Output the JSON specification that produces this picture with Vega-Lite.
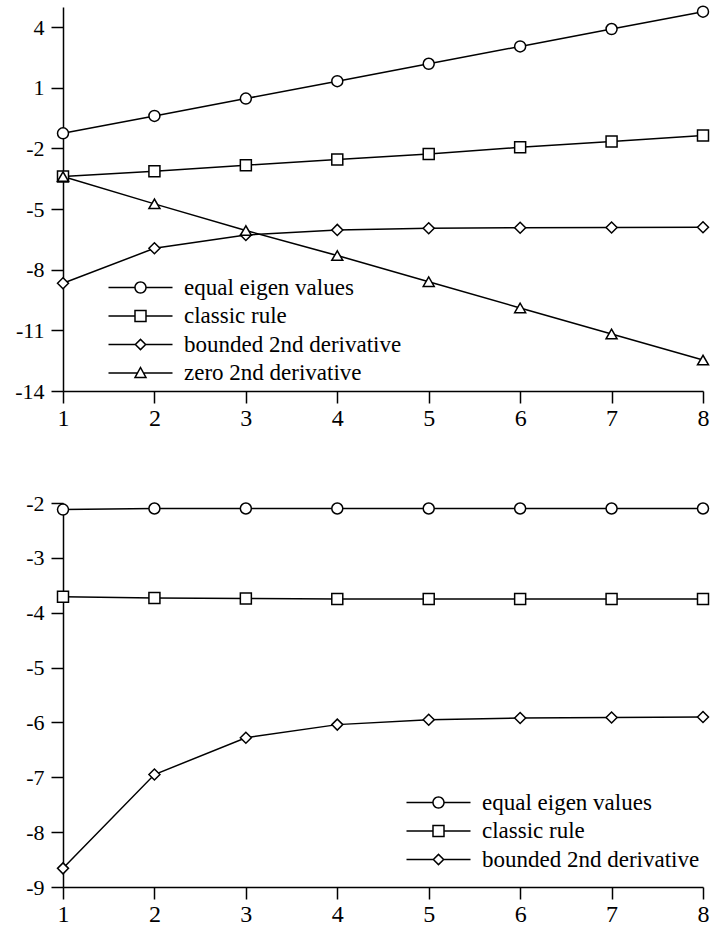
{
  "$schema": "https://vega.github.io/schema/vega-lite/v6.json",
  "background": "white",
  "padding": {"left": 14, "top": 3, "right": 3, "bottom": 0},
  "bounds": "flush",
  "spacing": 112,
  "config": {
    "view": {"stroke": null},
    "axis": {"labelFont": "Liberation Serif", "labelFontSize": 22, "labelColor": "black", "domainColor": "black", "tickColor": "black", "domainWidth": 1.5, "tickWidth": 1.5, "tickSize": 12, "grid": false, "title": null, "labelPadding": 7, "labelFlush": false, "labelOverlap": false, "labelExpr": "'' + datum.value"},
    "axisX": {"labelPadding": 3, "labelFontSize": 24}
  },
  "datasets": {
    "top": [
      {"x": 1, "y": -1.25, "series": "equal eigen values"},
      {"x": 2, "y": -0.39, "series": "equal eigen values"},
      {"x": 3, "y": 0.47, "series": "equal eigen values"},
      {"x": 4, "y": 1.33, "series": "equal eigen values"},
      {"x": 5, "y": 2.19, "series": "equal eigen values"},
      {"x": 6, "y": 3.05, "series": "equal eigen values"},
      {"x": 7, "y": 3.91, "series": "equal eigen values"},
      {"x": 8, "y": 4.77, "series": "equal eigen values"},
      {"x": 1, "y": -3.39, "series": "classic rule"},
      {"x": 2, "y": -3.13, "series": "classic rule"},
      {"x": 3, "y": -2.83, "series": "classic rule"},
      {"x": 4, "y": -2.55, "series": "classic rule"},
      {"x": 5, "y": -2.27, "series": "classic rule"},
      {"x": 6, "y": -1.94, "series": "classic rule"},
      {"x": 7, "y": -1.66, "series": "classic rule"},
      {"x": 8, "y": -1.36, "series": "classic rule"},
      {"x": 1, "y": -8.67, "series": "bounded 2nd derivative"},
      {"x": 2, "y": -6.94, "series": "bounded 2nd derivative"},
      {"x": 3, "y": -6.28, "series": "bounded 2nd derivative"},
      {"x": 4, "y": -6.03, "series": "bounded 2nd derivative"},
      {"x": 5, "y": -5.95, "series": "bounded 2nd derivative"},
      {"x": 6, "y": -5.92, "series": "bounded 2nd derivative"},
      {"x": 7, "y": -5.91, "series": "bounded 2nd derivative"},
      {"x": 8, "y": -5.9, "series": "bounded 2nd derivative"},
      {"x": 1, "y": -3.39, "series": "zero 2nd derivative"},
      {"x": 2, "y": -4.74, "series": "zero 2nd derivative"},
      {"x": 3, "y": -6.06, "series": "zero 2nd derivative"},
      {"x": 4, "y": -7.3, "series": "zero 2nd derivative"},
      {"x": 5, "y": -8.59, "series": "zero 2nd derivative"},
      {"x": 6, "y": -9.89, "series": "zero 2nd derivative"},
      {"x": 7, "y": -11.18, "series": "zero 2nd derivative"},
      {"x": 8, "y": -12.47, "series": "zero 2nd derivative"}
    ],
    "bottom": [
      {"x": 1, "y": -2.12, "series": "equal eigen values"},
      {"x": 2, "y": -2.1, "series": "equal eigen values"},
      {"x": 3, "y": -2.1, "series": "equal eigen values"},
      {"x": 4, "y": -2.1, "series": "equal eigen values"},
      {"x": 5, "y": -2.1, "series": "equal eigen values"},
      {"x": 6, "y": -2.1, "series": "equal eigen values"},
      {"x": 7, "y": -2.1, "series": "equal eigen values"},
      {"x": 8, "y": -2.1, "series": "equal eigen values"},
      {"x": 1, "y": -3.71, "series": "classic rule"},
      {"x": 2, "y": -3.73, "series": "classic rule"},
      {"x": 3, "y": -3.74, "series": "classic rule"},
      {"x": 4, "y": -3.75, "series": "classic rule"},
      {"x": 5, "y": -3.75, "series": "classic rule"},
      {"x": 6, "y": -3.75, "series": "classic rule"},
      {"x": 7, "y": -3.75, "series": "classic rule"},
      {"x": 8, "y": -3.75, "series": "classic rule"},
      {"x": 1, "y": -8.66, "series": "bounded 2nd derivative"},
      {"x": 2, "y": -6.95, "series": "bounded 2nd derivative"},
      {"x": 3, "y": -6.28, "series": "bounded 2nd derivative"},
      {"x": 4, "y": -6.04, "series": "bounded 2nd derivative"},
      {"x": 5, "y": -5.95, "series": "bounded 2nd derivative"},
      {"x": 6, "y": -5.92, "series": "bounded 2nd derivative"},
      {"x": 7, "y": -5.91, "series": "bounded 2nd derivative"},
      {"x": 8, "y": -5.9, "series": "bounded 2nd derivative"}
    ]
  },
  "resolve": {"scale": {"x": "independent", "y": "independent", "shape": "independent"}, "legend": {"shape": "independent"}},
  "vconcat": [
    {
      "width": 640,
      "height": 384,
      "data": {"name": "top"},
      "encoding": {
        "x": {"field": "x", "type": "quantitative", "scale": {"domain": [1, 8], "nice": false, "zero": false}, "axis": {"values": [1, 2, 3, 4, 5, 6, 7, 8]}},
        "y": {"field": "y", "type": "quantitative", "scale": {"domain": [-14, 5], "nice": false, "zero": false}, "axis": {"values": [-14, -11, -8, -5, -2, 1, 4]}}
      },
      "resolve": {"scale": {"shape": "independent"}, "legend": {"shape": "independent"}},
      "layer": [
        {"mark": {"type": "line", "color": "black", "strokeWidth": 1.5}, "encoding": {"detail": {"field": "series"}}},
        {
          "mark": {"type": "point", "filled": false, "fill": "white", "fillOpacity": 1, "stroke": "black", "strokeWidth": 1.5, "opacity": 1, "size": 121},
          "encoding": {
            "shape": {
              "field": "series", "type": "nominal", "legend": null,
              "scale": {"domain": ["equal eigen values", "classic rule", "bounded 2nd derivative", "zero 2nd derivative"], "range": ["circle", "square", "diamond", "triangle-up"]}
            }
          }
        },
        {
          "mark": {"type": "point", "filled": true, "color": "black", "opacity": 0, "size": 484},
          "encoding": {
            "shape": {
              "field": "series", "type": "nominal",
              "scale": {"domain": ["equal eigen values", "classic rule", "bounded 2nd derivative", "zero 2nd derivative"], "range": [
                "M-2.91,-0.068H-0.55V0.068H-2.91ZM0.55,-0.068H2.91V0.068H0.55ZM-0.568,0A0.568,0.568,0,1,1,0.568,0A0.568,0.568,0,1,1,-0.568,0ZM-0.432,0A0.432,0.432,0,1,0,0.432,0A0.432,0.432,0,1,0,-0.432,0Z",
                "M-2.91,-0.068H-0.5V0.068H-2.91ZM0.5,-0.068H2.91V0.068H0.5ZM-0.568,-0.568H0.568V0.568H-0.568ZM-0.432,-0.432V0.432H0.432V-0.432Z",
                "M-2.91,-0.068H-0.47V0.068H-2.91ZM0.47,-0.068H2.91V0.068H0.47ZM-0.566,0L0,-0.566L0.566,0L0,0.566ZM-0.374,0L0,0.374L0.374,0L0,-0.374Z",
                "M-2.91,-0.068H-0.3V0.068H-2.91ZM0.3,-0.068H2.91V0.068H0.3ZM0,-0.643L0.615,0.488H-0.615ZM0,-0.357L-0.386,0.352H0.386Z"
              ]},
              "legend": {
                "orient": "none", "legendX": 66, "legendY": 269, "title": null, "padding": 0,
                "symbolSize": 484, "rowPadding": 4.5, "labelOffset": 32, "symbolOpacity": 1,
                "labelFontSize": 23, "labelFont": "Liberation Serif", "labelColor": "black", "labelLimit": 0,
                "symbolStrokeWidth": 0, "symbolFillColor": "black"
              }
            }
          }
        }
      ]
    },
    {
      "width": 640,
      "height": 384,
      "data": {"name": "bottom"},
      "encoding": {
        "x": {"field": "x", "type": "quantitative", "scale": {"domain": [1, 8], "nice": false, "zero": false}, "axis": {"values": [1, 2, 3, 4, 5, 6, 7, 8]}},
        "y": {"field": "y", "type": "quantitative", "scale": {"domain": [-9, -2], "nice": false, "zero": false}, "axis": {"values": [-9, -8, -7, -6, -5, -4, -3, -2]}}
      },
      "resolve": {"scale": {"shape": "independent"}, "legend": {"shape": "independent"}},
      "layer": [
        {"mark": {"type": "line", "color": "black", "strokeWidth": 1.5}, "encoding": {"detail": {"field": "series"}}},
        {
          "mark": {"type": "point", "filled": false, "fill": "white", "fillOpacity": 1, "stroke": "black", "strokeWidth": 1.5, "opacity": 1, "size": 121},
          "encoding": {
            "shape": {
              "field": "series", "type": "nominal", "legend": null,
              "scale": {"domain": ["equal eigen values", "classic rule", "bounded 2nd derivative"], "range": ["circle", "square", "diamond"]}
            }
          }
        },
        {
          "mark": {"type": "point", "filled": true, "color": "black", "opacity": 0, "size": 484},
          "encoding": {
            "shape": {
              "field": "series", "type": "nominal",
              "scale": {"domain": ["equal eigen values", "classic rule", "bounded 2nd derivative"], "range": [
                "M-2.91,-0.068H-0.55V0.068H-2.91ZM0.55,-0.068H2.91V0.068H0.55ZM-0.568,0A0.568,0.568,0,1,1,0.568,0A0.568,0.568,0,1,1,-0.568,0ZM-0.432,0A0.432,0.432,0,1,0,0.432,0A0.432,0.432,0,1,0,-0.432,0Z",
                "M-2.91,-0.068H-0.5V0.068H-2.91ZM0.5,-0.068H2.91V0.068H0.5ZM-0.568,-0.568H0.568V0.568H-0.568ZM-0.432,-0.432V0.432H0.432V-0.432Z",
                "M-2.91,-0.068H-0.47V0.068H-2.91ZM0.47,-0.068H2.91V0.068H0.47ZM-0.566,0L0,-0.566L0.566,0L0,0.566ZM-0.374,0L0,0.374L0.374,0L0,-0.374Z"
              ]},
              "legend": {
                "orient": "none", "legendX": 364, "legendY": 288, "title": null, "padding": 0,
                "symbolSize": 484, "rowPadding": 4.5, "labelOffset": 32, "symbolOpacity": 1,
                "labelFontSize": 23, "labelFont": "Liberation Serif", "labelColor": "black", "labelLimit": 0,
                "symbolStrokeWidth": 0, "symbolFillColor": "black"
              }
            }
          }
        }
      ]
    }
  ]
}
